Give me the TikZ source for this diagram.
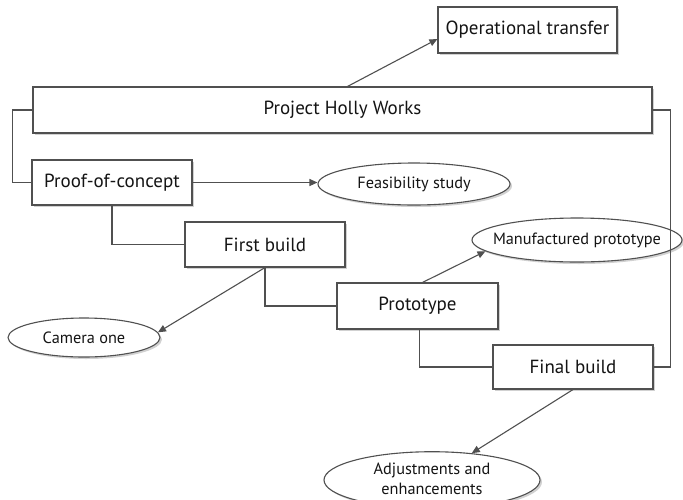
\documentclass[tikz,border=0pt]{standalone}
\usepackage{fontspec}
\setmainfont{PT Sans}
\usetikzlibrary{arrows.meta,shadows,shapes.geometric}
\definecolor{linegray}{HTML}{505050}
\definecolor{inkgray}{HTML}{141414}
\begin{document}
\begin{tikzpicture}[x=1pt,y=-1pt,
  softshadow/.style={drop shadow={shadow xshift=2pt,shadow yshift=-2pt,fill=black,opacity=0.18}},
  stagebox/.style={draw=linegray, line width=1.1pt, fill=white, rectangle, inner sep=0pt,
    minimum height=45pt, text=inkgray, font=\fontsize{19}{22}\selectfont, softshadow},
  outcome/.style={draw=linegray, line width=1.1pt, fill=white, ellipse, inner sep=0pt,
    text=inkgray, font=\fontsize{16.3}{20}\selectfont, softshadow},
  link/.style={draw=linegray, line width=1.1pt},
  arrowlink/.style={link, -{Triangle[length=8pt,width=7pt]}}
]
\useasboundingbox (0,0) rectangle (683,499);

% stages
\node[stagebox, minimum width=179pt, minimum height=46pt] (ot)  at (527.5,30)  {Operational transfer};
\node[stagebox, minimum width=619pt, minimum height=46pt] (phw) at (342.5,110) {Project Holly Works};
\node[stagebox, minimum width=160pt] (poc) at (112,182.5) {Proof-of-concept};
\node[stagebox, minimum width=160pt] (fb)  at (265,244.5) {First build};
\node[stagebox, minimum width=161pt, minimum height=46pt] (pr) at (417.5,306) {Prototype};
\node[stagebox, minimum width=160pt, minimum height=44pt] (fin) at (573,367) {Final build};

% outcomes
\node[outcome, minimum width=192pt, minimum height=42pt] (fs)  at (414,184)   {\makebox[0pt]{Feasibility study}};
\node[outcome, minimum width=210pt, minimum height=44pt] (mp)  at (577,240)   {\makebox[0pt]{Manufactured prototype}};
\node[outcome, minimum width=152pt, minimum height=39pt] (c1)  at (84,337.5)  {\makebox[0pt]{Camera one}};
\node[outcome, minimum width=216pt, minimum height=52pt] (adj) at (432,480)
  {\makebox[0pt]{\begin{tabular}{@{}c@{}}Adjustments and\\enhancements\end{tabular}}};

% stage links
\draw[link] (phw.west) -- ++(-20,0) |- (poc.west);
\draw[link] (phw.east) -- ++(18,0) |- (fin.east);
\draw[link] (poc.south) |- (fb.west);
\draw[link] (fb.south) |- (pr.west);
\draw[link] ([xshift=2pt]pr.south) |- (fin.west);

% outcome arrows
\draw[arrowlink] ([xshift=5pt]phw.north) -- ([yshift=-9pt]ot.west);
\draw[arrowlink] (poc.east) -- (poc.east -| fs.west);
\draw[arrowlink] (fb.south) -- (c1.4);
\draw[arrowlink] ([xshift=5pt]pr.north) -- (mp.187);
\draw[arrowlink] (fin.south) -- (adj.34);
\end{tikzpicture}
\end{document}
